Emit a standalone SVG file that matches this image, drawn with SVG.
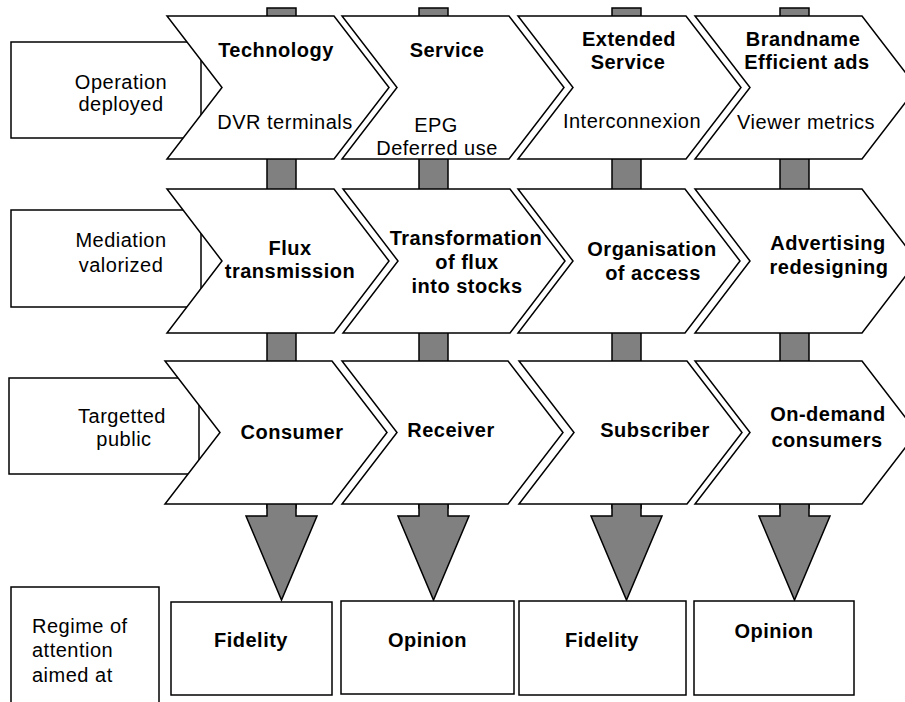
<svg xmlns="http://www.w3.org/2000/svg" width="905" height="702" viewBox="0 0 905 702">
<style>
  .box { fill: #ffffff; stroke: #000000; stroke-width: 1.5; }
  .bar { fill: #808080; stroke: #000000; stroke-width: 1.5; }
  text { font-family: "Liberation Sans", Arial, sans-serif; font-size: 20px; letter-spacing: 0.5px; fill: #000000; }
  .b { font-weight: bold; }
  .c { text-anchor: middle; }
</style>
<rect x="0" y="0" width="905" height="702" fill="#ffffff"/>
<g id="connectors">
  <rect class="bar" x="267" y="8" width="29" height="500"/>
  <rect class="bar" x="419" y="8" width="29" height="500"/>
  <rect class="bar" x="612" y="8" width="29" height="500"/>
  <rect class="bar" x="780" y="8" width="29" height="500"/>
  <polygon class="bar" points="267,503 267,516 246,516 281.5,600 317,516 296,516 296,503"/>
  <polygon class="bar" points="419,503 419,516 398,516 433.5,600 469,516 448,516 448,503"/>
  <polygon class="bar" points="612,503 612,516 591,516 626.5,600 662,516 641,516 641,503"/>
  <polygon class="bar" points="780,503 780,516 759,516 794.5,600 830,516 809,516 809,503"/>
</g>
<g id="label-operation">
  <rect class="box" x="11" y="42" width="190" height="96"/>
  <text class="c" x="121" y="89">Operation</text>
  <text class="c" x="121" y="111">deployed</text>
</g>
<g id="label-mediation">
  <rect class="box" x="11" y="210" width="190" height="97"/>
  <text class="c" x="121" y="247">Mediation</text>
  <text class="c" x="121" y="272">valorized</text>
</g>
<g id="label-public">
  <rect class="box" x="9" y="378" width="190" height="96"/>
  <text class="c" x="122" y="423">Targetted</text>
  <text class="c" x="124" y="446">public</text>
</g>
<g id="label-regime">
  <rect class="box" x="11" y="587" width="148" height="130"/>
  <text x="32" y="633">Regime of</text>
  <text x="32" y="657">attention</text>
  <text x="32" y="682">aimed at</text>
</g>
<g id="technology">
  <polygon class="box" points="167,16 334,16 389,87.5 334,159 167,159 222,87.5"/>
  <text class="c b" x="276" y="57">Technology</text>
  <text class="c" x="285" y="129">DVR terminals</text>
</g>
<g id="service">
  <polygon class="box" points="342,16 509,16 564,87.5 509,159 342,159 397,87.5"/>
  <text class="c b" x="447" y="57">Service</text>
  <text class="c" x="436" y="132">EPG</text>
  <text class="c" x="437" y="155">Deferred use</text>
</g>
<g id="extended-service">
  <polygon class="box" points="518,16 686,16 741,87.5 686,159 518,159 573,87.5"/>
  <text class="c b" x="629" y="46">Extended</text>
  <text class="c b" x="628" y="69">Service</text>
  <text class="c" x="632" y="128">Interconnexion</text>
</g>
<g id="brandname">
  <polygon class="box" points="695,16 862,16 917,87.5 862,159 695,159 750,87.5"/>
  <text class="c b" x="803" y="46">Brandname</text>
  <text class="c b" x="807" y="69">Efficient ads</text>
  <text class="c" x="806" y="129">Viewer metrics</text>
</g>
<g id="flux-transmission">
  <polygon class="box" points="167,189 334,189 389,261 334,333 167,333 222,261"/>
  <text class="c b" x="290" y="255">Flux</text>
  <text class="c b" x="290" y="278">transmission</text>
</g>
<g id="transformation">
  <polygon class="box" points="343,189 510,189 565,261 510,333 343,333 398,261"/>
  <text class="c b" x="466" y="245">Transformation</text>
  <text class="c b" x="467" y="269">of flux</text>
  <text class="c b" x="467" y="293">into stocks</text>
</g>
<g id="organisation">
  <polygon class="box" points="518,189 685,189 740,261 685,333 518,333 573,261"/>
  <text class="c b" x="652" y="256">Organisation</text>
  <text class="c b" x="653" y="280">of access</text>
</g>
<g id="advertising">
  <polygon class="box" points="695,189 862,189 917,261 862,333 695,333 750,261"/>
  <text class="c b" x="828" y="250">Advertising</text>
  <text class="c b" x="829" y="274">redesigning</text>
</g>
<g id="consumer">
  <polygon class="box" points="165,361 332,361 387,432.5 332,504 165,504 220,432.5"/>
  <text class="c b" x="292" y="439">Consumer</text>
</g>
<g id="receiver">
  <polygon class="box" points="342,361 508,361 563,432.5 508,504 342,504 397,432.5"/>
  <text class="c b" x="451" y="437">Receiver</text>
</g>
<g id="subscriber">
  <polygon class="box" points="519,361 687,361 742,432.5 687,504 519,504 574,432.5"/>
  <text class="c b" x="655" y="437">Subscriber</text>
</g>
<g id="on-demand">
  <polygon class="box" points="695,361 862,361 917,432.5 862,504 695,504 750,432.5"/>
  <text class="c b" x="828" y="421">On-demand</text>
  <text class="c b" x="827" y="447">consumers</text>
</g>
<g id="fidelity-1">
  <rect class="box" x="171" y="602" width="161" height="93"/>
  <text class="c b" x="251" y="647">Fidelity</text>
</g>
<g id="opinion-1">
  <rect class="box" x="341" y="601" width="173" height="93"/>
  <text class="c b" x="427.5" y="647">Opinion</text>
</g>
<g id="fidelity-2">
  <rect class="box" x="519" y="601" width="167" height="94"/>
  <text class="c b" x="602" y="647">Fidelity</text>
</g>
<g id="opinion-2">
  <rect class="box" x="694" y="601" width="160" height="94"/>
  <text class="c b" x="774" y="638">Opinion</text>
</g>
</svg>
